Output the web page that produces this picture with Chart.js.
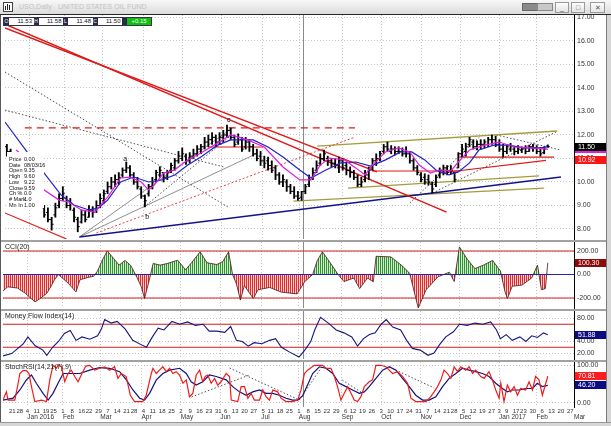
<!DOCTYPE html>
<html>
<head>
<meta charset="utf-8">
<script src="https://cdn.jsdelivr.net/npm/chart.js@4.4.1/dist/chart.umd.min.js"></script>
<style>
  html, body { margin:0; padding:0; width:611px; height:426px; overflow:hidden; background:#fff; font-family:"Liberation Sans", Arial, sans-serif; }
  .abs { position:absolute; }
  canvas { position:absolute; left:0; z-index:2; }
  #titlebar { left:0; top:0; width:611px; height:14px; background:linear-gradient(#f8f8f8,#dcdcdc); border-bottom:1px solid #262626; z-index:1; }
  .sep { left:0; width:606px; height:2px; background:#a2a2a2; z-index:3; }
  .btn { top:2px; height:9px; border:1px solid #9a9a9a; background:linear-gradient(#fdfdfd,#e4e4e4); font-size:7px; line-height:9px; text-align:center; color:#555; }
  #ohlc { left:3px; top:17px; width:147px; height:7px; border:1px solid #33334d; background:#fff; z-index:4; font-size:6px; line-height:7px; }
  #ohlc div { position:absolute; top:0; height:7px; }
  .lbl { background:#2a2a48; color:#fff; width:5px; text-align:center; font-size:5px; }
  .val { text-align:right; color:#111; }
  #dwin { left:7px; top:152px; width:37px; height:56px; background:#fff; z-index:4; font-size:5.5px; line-height:6.1px; color:#111; }
  #dwin div { position:absolute; left:2px; white-space:nowrap; }
</style>
</head>
<body>
<div id="titlebar" class="abs">
  <div class="abs" style="left:3px;top:2px;width:8px;height:8px;border:1px solid #444;background:#fff;">
    <div class="abs" style="left:1px;top:3px;width:1px;height:4px;background:#222"></div>
    <div class="abs" style="left:3px;top:1px;width:1px;height:6px;background:#222"></div>
    <div class="abs" style="left:5px;top:2px;width:1px;height:5px;background:#222"></div>
  </div>
  <div class="abs" style="left:19px;top:3px;font-size:7px;color:#c2c2c2;white-space:nowrap;">USO,Daily</div>
  <div class="abs" style="left:58px;top:3px;font-size:7px;color:#c2c2c2;white-space:nowrap;">UNITED STATES OIL FUND</div>
  <div class="abs" style="left:522px;top:3px;width:14px;height:6px;background:#8a8a8a;border:1px solid #666;"></div>
  <div class="abs" style="left:537px;top:3px;width:14px;height:6px;background:#c8c8c8;border:1px solid #888;"></div>
  <div class="abs btn" style="left:555px;width:12px;">_</div>
  <div class="abs btn" style="left:571px;width:12px;">□</div>
  <div class="abs btn" style="left:590px;width:13px;">✕</div>
</div>

<div id="ohlc" class="abs"></div>
<div id="dwin" class="abs"></div>

<canvas id="cMain"></canvas>
<canvas id="cCci"></canvas>
<canvas id="cMfi"></canvas>
<canvas id="cSto"></canvas>

<div class="abs sep" style="top:240px;"></div>
<div class="abs sep" style="top:309px;"></div>
<div class="abs sep" style="top:360px;"></div>
<div class="abs" style="left:0;top:15px;width:1px;height:407px;background:#5a5a5a;z-index:3;"></div>
<div class="abs" style="left:606px;top:15px;width:5px;height:411px;background:#d6d6d6;border-left:1px solid #7c7c7c;z-index:3;"></div>
<div class="abs" style="left:0;top:422px;width:611px;height:4px;background:#d6d6d6;border-top:1px solid #9a9a9a;z-index:3;"></div>

<script>
// ---------------- DATA ----------------
const calStart = '2015-12-14';
const holidays = ['2015-12-25','2016-01-01','2016-01-18','2016-02-15','2016-03-25','2016-05-30',
  '2016-07-04','2016-09-05','2016-11-24','2016-12-26','2017-01-02','2017-01-16'];
const monthNames = ['Jan','Feb','Mar','Apr','May','Jun','Jul','Aug','Sep','Oct','Nov','Dec'];

const headerFields = [['O','11.53'],['H','11.58'],['L','11.48'],['C','11.50']];
const headerChange = '+0.15';
const dataWindow = [['Price','0.00'],['Date','08/03/16'],['Open','9.35'],['High','9.60'],['Low','9.22'],
  ['Close','9.59'],['Ch %','0.0'],['# Mark','1.0'],['Mn In','1.00']];
const crossIdx = 160;

const priceTicks = [8,9,10,11,12,13,14,15,16,17];
const cciTicks = [-200,0,200];
const mfiTicks = [20,40,80];
const stoTicks = [0,100];

// OHLC bars: every second trading day starting at index 1
const barFirst = 1, barStep = 2;
const opens = [11.5,11.3,11.1,10.9,10.7,10.8,10.5,10.1,9.7,9.4,
  8.9,8.7,8.4,8.6,9.0,9.3,9.3,9.0,8.8,8.4,
  8.3,8.6,8.5,8.8,8.8,9.0,9.2,9.6,9.8,10.0,
  10.1,10.3,10.5,10.6,10.3,10.0,9.7,9.4,9.5,9.8,
  10.1,10.3,10.4,10.2,10.5,10.6,10.9,11.0,11.1,10.9,
  11.1,11.2,11.4,11.5,11.7,11.8,11.9,11.7,11.9,12.0,
  12.2,11.9,11.7,11.8,11.5,11.7,11.5,11.2,11.1,10.9,
  10.9,10.7,10.6,10.3,10.0,10.0,9.8,9.6,9.4,9.35,
  9.6,9.9,10.2,10.5,10.8,11.0,11.0,10.9,10.8,10.6,
  10.9,10.7,10.5,10.4,10.2,9.9,10.1,10.3,10.6,10.9,
  11.0,11.3,11.5,11.3,11.4,11.3,11.3,11.2,11.2,10.9,
  10.6,10.3,10.2,10.1,9.9,9.9,10.3,10.5,10.6,10.5,
  10.4,10.6,11.2,11.3,11.6,11.7,11.5,11.6,11.6,11.6,
  11.8,11.8,11.6,11.4,11.3,11.4,11.4,11.3,11.35,11.45,
  11.3,11.5,11.45,11.3,11.25,11.53];
const lows = [11.1,10.9,10.7,10.5,10.6,10.4,10.0,9.6,9.3,9.0,
  8.5,8.3,7.95,8.5,8.9,9.2,8.9,8.8,8.3,7.88,
  8.25,8.3,8.5,8.5,8.7,8.9,9.1,9.5,9.7,9.8,
  9.9,10.2,10.4,10.2,9.9,9.7,9.3,8.94,9.4,9.7,
  10.0,10.2,10.0,10.1,10.4,10.5,10.8,10.9,10.75,10.8,
  11.0,11.1,11.2,11.4,11.5,11.6,11.5,11.6,11.7,11.9,
  11.8,11.5,11.6,11.3,11.4,11.3,11.1,10.9,10.7,10.6,
  10.5,10.4,10.1,9.9,9.8,9.6,9.5,9.3,9.22,9.22,
  9.5,9.8,10.1,10.4,10.7,10.9,10.7,10.64,10.6,10.4,
  10.5,10.3,10.2,10.1,9.8,9.8,10.0,10.1,10.5,10.7,
  10.9,11.2,11.3,11.2,11.15,11.2,11.1,11.06,10.8,10.5,
  10.3,10.0,9.9,9.87,9.53,9.8,10.17,10.3,10.3,10.35,
  10.0,10.6,11.06,11.1,11.5,11.4,11.36,11.4,11.45,11.5,
  11.6,11.5,11.3,11.06,11.2,11.3,11.15,11.2,11.25,11.2,
  11.3,11.3,11.2,11.1,11.2,11.48];
const highs = [11.6,11.4,11.2,11.0,11.0,10.9,10.6,10.2,9.8,9.5,
  9.0,8.9,8.5,9.1,9.5,9.8,9.4,9.3,8.9,8.5,
  8.8,8.75,9.0,8.95,9.2,9.5,9.66,10.0,10.2,10.3,
  10.4,10.6,10.85,10.7,10.4,10.2,9.8,9.45,9.9,10.2,
  10.5,10.65,10.4,10.5,10.8,11.0,11.3,11.45,11.2,11.25,
  11.4,11.55,11.6,11.9,12.0,12.1,12.0,12.1,12.2,12.42,
  12.3,12.0,12.05,11.9,11.9,11.8,11.6,11.4,11.3,11.1,
  11.06,10.9,10.7,10.4,10.3,10.1,9.9,9.8,9.6,9.6,
  9.9,10.3,10.6,10.9,11.2,11.36,11.1,11.0,11.0,11.06,
  11.0,10.8,10.64,10.5,10.3,10.2,10.5,10.64,11.0,11.2,
  11.3,11.6,11.7,11.55,11.5,11.5,11.45,11.5,11.3,11.0,
  10.7,10.4,10.35,10.3,10.0,10.3,10.6,10.72,10.7,10.7,
  10.4,11.25,11.6,11.65,11.9,11.8,11.75,11.8,11.8,11.9,
  12.0,11.95,11.8,11.6,11.6,11.65,11.5,11.55,11.5,11.55,
  11.57,11.6,11.55,11.45,11.5,11.58];
const closes = [11.3,11.0,10.8,10.7,10.8,10.5,10.1,9.7,9.4,9.1,
  8.6,8.4,8.2,8.9,9.3,9.5,9.0,9.1,8.5,8.1,
  8.6,8.4,8.8,8.7,9.0,9.3,9.5,9.8,10.0,10.1,
  10.2,10.5,10.6,10.3,10.0,9.8,9.4,9.2,9.8,10.0,
  10.4,10.5,10.2,10.4,10.7,10.9,11.1,11.2,10.9,11.1,
  11.2,11.4,11.5,11.7,11.8,11.9,11.7,11.9,12.0,12.2,
  11.9,11.6,11.9,11.4,11.7,11.5,11.2,11.0,10.9,10.8,
  10.7,10.5,10.3,10.0,10.1,9.8,9.6,9.4,9.3,9.59,
  9.8,10.1,10.4,10.7,11.0,11.2,10.9,10.8,10.7,10.9,
  10.6,10.5,10.4,10.2,9.9,10.0,10.3,10.5,10.9,11.0,
  11.2,11.5,11.4,11.4,11.3,11.3,11.2,11.2,10.9,10.6,
  10.4,10.1,10.0,10.0,9.7,10.2,10.5,10.6,10.4,10.5,
  10.1,11.2,11.4,11.5,11.8,11.5,11.6,11.6,11.7,11.8,
  11.8,11.6,11.4,11.3,11.5,11.5,11.3,11.4,11.4,11.3,
  11.5,11.45,11.3,11.2,11.4,11.50];

const maBlue = [[0,12.55],[13,11.15],[21,10.38],[30,9.45],[37,9.02],[45,8.81],[50,8.89],[55,9.23],[62,10.0],
  [69,10.21],[77,10.0],[84,10.09],[91,10.3],[98,10.72],[105,11.06],[114,11.57],[121,11.79],[133,11.79],
  [141,11.49],[149,11.06],[158,10.51],[164,10.17],[172,10.51],[180,10.81],[188,10.85],[196,10.68],
  [204,10.94],[212,11.28],[218,11.28],[225,10.94],[231,10.51],[238,10.3],[243,10.43],[249,10.81],
  [254,11.36],[262,11.57],[270,11.57],[278,11.45],[286,11.45],[291,11.49]];
const maMagenta = [[6,11.36],[11,11.02],[21,9.66],[29,9.23],[34,9.15],[41,8.81],[48,8.72],[55,9.36],[62,10.17],
  [67,10.21],[73,10.0],[77,9.66],[80,9.87],[85,10.38],[91,10.51],[98,10.94],[105,11.23],[114,11.66],
  [121,12.0],[130,11.79],[139,11.49],[149,10.64],[158,10.09],[164,10.09],[169,10.72],[174,11.02],
  [182,10.94],[188,10.6],[193,10.3],[197,10.72],[204,11.28],[211,11.45],[217,11.28],[222,10.72],
  [228,10.38],[233,10.51],[239,10.47],[243,10.85],[249,11.36],[257,11.57],[265,11.7],[273,11.49],
  [281,11.45],[291,11.4]];

const lastMagenta = 11.40, lastClose = 11.50, lastRedLine = 10.92;

// trendlines [[index, price], [index, price]]
const redThick = [[[0,16.72],[236.7,8.72]], [[0,16.55],[199.4,10.43]]];
const redThin = [[[196.7,10.47],[243.6,10.47]], [[233,10.38],[290,10.92]], [[243.6,11.06],[294.3,11.06]],
  [[108.7,11.49],[138.6,11.49]], [[0,8.68],[33,7.57]]];
const redDashed = [[10.6,12.30],[187.6,12.30]];
const redDotted = [[49,7.83],[187.6,11.91]];
const navyTrend = [[39.9,7.66],[298,10.21]];
const oliveTrends = [[[167.4,11.53],[296,12.17]], [[183.9,9.74],[286.3,10.26]], [[154.6,9.19],[289,9.74]]];
const blackDotted = [[[0,14.68],[119.4,8.94]], [[0,13.06],[117.2,10.64]], [[74.6,8.94],[122,12.04]],
  [[217,9.11],[254.3,11.91]], [[229.2,9.53],[295.4,12.13]], [[263.4,12.0],[298,11.36]]];
const blackThin = [[[39.9,7.66],[122.6,12.34]], [[39.9,7.66],[135.4,11.23]]];
const waveLabels = [['a',64.4,10.98],['b',76.2,8.51],['c',119.9,12.64]];

// CCI(20)
const cci = [[0,-140],[2.5,-105],[7.7,-115],[11.9,-160],[17.1,-233],[20.2,-200],[23.4,-160],[25.5,-105],
  [27.5,-45],[29.6,0],[31.7,-30],[34.9,-75],[39,-148],[41.1,-45],[45.3,-25],[48.4,-15],[50.5,30],[53,120],
  [55.7,201],[58.9,140],[62,80],[65.2,120],[68.3,75],[71.4,-20],[73.9,-105],[75.6,-204],[78.1,-48],
  [80.2,94],[83.9,80],[88.1,95],[93.3,122],[97.5,40],[100.7,100],[105.3,193],[109,100],[114.2,85],
  [117.4,110],[120.5,193],[122.6,0],[124.7,-80],[126.8,-218],[128.9,-95],[133.7,-204],[136.2,-130],
  [142.4,-110],[148.7,-150],[157.1,-165],[161.2,-60],[165.4,0],[167.9,120],[170.6,193],[174.8,100],
  [179,0],[182.1,-60],[187.4,-30],[190.5,-120],[194.7,-30],[197.8,-62],[199.3,155],[207.2,150],
  [213.5,70],[217.2,10],[219.7,-150],[221.8,-285],[226,-130],[232.3,-20],[238.5,20],[241,-60],
  [243.8,235],[248,130],[252.1,50],[257.3,85],[261.5,120],[265.7,30],[268.2,-150],[269.4,-204],
  [272,-100],[277.2,-90],[282.4,-30],[285.5,80],[287.6,-130],[289.7,-120],[291,100.3]];
const cciLevels = [200, -200];
const lastCci = 100.30;

// Money Flow Index(14)
const mfi = [[0,15],[4.6,19],[10.8,36],[13.3,48],[17.1,33],[21.3,25],[23.4,16],[26.5,30],[29.6,40],
  [32.8,54],[35.9,59],[39,42],[42.2,48],[46.4,44],[50.5,50],[52.6,62],[54.3,78],[57.8,72],[61,75],
  [65.2,62],[69.3,42],[73.5,35],[76.6,30],[79.8,48],[82.9,63],[86,60],[90.2,75],[94.4,70],[98.6,74],
  [102.8,68],[106.9,70],[110.1,58],[114.2,58],[118.4,56],[121.6,66],[124.7,42],[127.8,40],[131,32],
  [134.1,38],[138.3,36],[142.4,42],[145.6,45],[148.7,30],[152.9,22],[158.1,13],[161.2,25],[164.4,40],
  [166.5,60],[169.6,82],[173.8,72],[178,60],[182.1,55],[186.3,48],[189.4,32],[192.6,45],[195.7,52],
  [198.8,55],[202,70],[204.7,78],[208.2,65],[212.4,60],[215.6,42],[218.7,28],[222.9,25],[227,16],
  [230.2,20],[233.3,35],[236.5,48],[240.6,57],[243.8,70],[248,68],[252.1,72],[256.3,70],[260.5,74],
  [263.6,60],[265.7,45],[268.8,52],[272,42],[276.1,48],[279.3,40],[282.4,50],[285.5,47],[288.7,55],
  [291,51.88]];
const mfiLevels = [70, 30];
const lastMfi = 51.88;

// StochRSI(14,21(7),9)
const stochK = [[0,7],[1.8,29],[2.7,7],[6.3,7],[8.1,52],[9,78],[10.7,86],[12.5,86],[13.9,78],[15.2,43],
  [17,3],[20.5,7],[23.2,3],[25,61],[26.7,100],[28.5,92],[29.4,100],[31.2,96],[33,56],[34.7,78],[36.5,87],
  [38.3,70],[40.1,56],[41.8,74],[44.2,98],[46.3,100],[49,87],[51.6,92],[54.3,96],[57,87],[59.6,96],
  [61.4,65],[63.2,78],[65.8,70],[68,20],[70.3,3],[74.7,3],[76.5,20],[79.2,78],[80.1,92],[81.9,78],
  [83.6,87],[85.4,96],[87.2,83],[89,92],[90.7,78],[92.5,83],[94.3,74],[96.1,52],[97.9,61],[99.6,16],
  [101.4,25],[103.2,74],[105,87],[106.7,56],[108,70],[109.4,74],[111.2,52],[113,65],[114.7,47],
  [116.5,56],[119.2,78],[121,70],[121.9,7],[125.4,3],[127.2,43],[129,43],[130.8,12],[132.5,25],
  [134.3,7],[137,7],[138.8,34],[140.5,16],[142.3,7],[144.1,34],[146.7,29],[148.5,12],[151.2,3],
  [154.7,3],[157.4,7],[159.2,34],[161,78],[162.7,87],[166.3,100],[170.7,100],[172.5,92],[175.2,92],
  [177,70],[178.7,43],[180.5,7],[182.3,25],[184.1,43],[185.9,25],[187.6,7],[189.4,3],[191.2,16],
  [193,43],[195.6,56],[197.4,61],[199.2,100],[201.9,100],[204.5,96],[206.3,87],[208.1,78],[210.7,83],
  [213.4,70],[216.1,52],[217.9,12],[220.5,3],[225.9,3],[228.5,16],[230.3,29],[232.1,43],[233.9,61],
  [235.6,87],[237.4,78],[239.2,65],[241,96],[242.8,83],[244.5,96],[247.2,87],[249,96],[250.8,78],
  [252.5,87],[255.2,70],[257,65],[259.6,83],[261.4,61],[263.2,34],[265,12],[265.9,52],[267.6,3],
  [269.4,47],[271.2,29],[273,43],[274.8,20],[276.5,38],[279.2,34],[281,56],[282.8,34],[284.5,70],
  [286.3,61],[288.1,20],[291,70.81]];
const stochD = [[0,7],[5.4,12],[9,34],[12.5,61],[15.2,74],[17.8,52],[21.4,25],[24.1,7],[26.7,25],
  [29.4,52],[32.1,78],[35.6,78],[41,78],[46.3,87],[51.6,94],[57,92],[62.3,83],[65.9,61],[69.4,34],
  [73,12],[75.6,7],[78.3,25],[81.9,61],[85.4,78],[89,87],[94.3,92],[97.9,78],[100.5,56],[103.2,47],
  [106.7,56],[110.3,74],[113.9,70],[119.2,61],[122.7,43],[126.3,29],[129.9,20],[133.4,29],[137,34],
  [140.5,25],[144.1,25],[147.6,20],[151.2,12],[154.7,7],[157.4,7],[160,18],[162,40],[165.4,78],
  [169,96],[172.5,92],[176.1,78],[179.6,52],[183.2,43],[186.7,34],[190.3,25],[193,29],[195.6,43],
  [199.2,65],[202.8,87],[206.3,96],[209.9,87],[213.4,65],[217,43],[220.5,20],[224.1,7],[227.6,7],
  [231.2,16],[234.8,43],[238.3,65],[241.9,78],[245.4,92],[249,87],[252.5,83],[256.1,78],[259.6,70],
  [263.2,52],[266.8,38],[269.4,29],[272.1,34],[275.6,34],[279.2,38],[282.8,38],[285.4,52],[288.1,43],
  [291,46.2]];
const stochLines = [[[100.7,15.2],[131.6,74]], [[121,92.8],[158.3,7.2]], [[158.3,7.2],[170.6,98]],
  [[181.2,60.7],[191.9,26]], [[206.3,95.5],[230.3,39.3]]];
const lastK = 70.81, lastD = 46.20;

// ---------------- LAYOUT / HELPERS ----------------
const FONT = '"Liberation Sans", Arial, sans-serif';
Chart.defaults.font.family = FONT;
const PAD = 6;
const X_MAX = 305;

// trading calendar for the time axis
const tradingDays = [];
(function(){
  const d = new Date(calStart + 'T00:00:00Z');
  while (tradingDays.length <= X_MAX + 1) {
    const dow = d.getUTCDay(), iso = d.toISOString().slice(0,10);
    if (dow !== 0 && dow !== 6 && !holidays.includes(iso)) tradingDays.push(new Date(d));
    d.setUTCDate(d.getUTCDate() + 1);
  }
})();
const weekTicks = [], monthTicks = [];
tradingDays.forEach((d, i) => {
  if (i > X_MAX) return;
  const p = tradingDays[i-1];
  const newWeek = !p || d.getUTCDay() <= p.getUTCDay() || (d - p) > 4*864e5;
  if (newWeek && i >= 2) weekTicks.push({idx:i, label:String(d.getUTCDate())});
  const newMonth = !p || d.getUTCMonth() !== p.getUTCMonth();
  if (newMonth && i >= 2) {
    const m = d.getUTCMonth();
    monthTicks.push({idx:i, label: m === 0 ? monthNames[m] + ' ' + d.getUTCFullYear() : monthNames[m]});
  }
});
const weekLabel = new Map(weekTicks.map(t => [t.idx, t.label]));
const monthLabel = new Map(monthTicks.map(t => [t.idx, t.label]));

// header row + data window
(function(){
  const box = document.getElementById('ohlc');
  let html = '';
  headerFields.forEach((f, k) => {
    const x0 = k * 29.5;
    html += `<div class="lbl" style="left:${x0}px">${f[0]}</div>`;
    html += `<div class="val" style="left:${x0+6}px;width:${22}px">${f[1]}</div>`;
  });
  html += `<div class="lbl" style="left:118px"></div>`;
  html += `<div style="left:123px;width:24px;background:#10c010;color:#fff;text-align:center">${headerChange}</div>`;
  box.innerHTML = html;
  const dw = document.getElementById('dwin');
  dw.innerHTML = dataWindow.map((r, k) =>
    `<div style="top:${4 + k*5.7}px">${r[0]}</div><div style="top:${4 + k*5.7}px;left:17px">${r[1]}</div>`).join('');
})();

function gridX() {
  return { type:'linear', min:0, max:X_MAX, position:'bottom', offset:false,
    afterBuildTicks: s => { s.ticks = monthTicks.map(t => ({value:t.idx})); },
    ticks:{display:false}, grid:{color:'#c4c4c4', lineWidth:1, drawTicks:false, offset:false},
    border:{display:false, dash:[1,2]},
    afterFit: s => { s.height = 0; s.paddingLeft = 0; s.paddingRight = 0; } };
}
function rightY(min, max, ticks) {
  return { type:'linear', position:'right', min, max, beginAtZero:false,
    afterBuildTicks: s => { s.ticks = ticks.map(v => ({value:v})); },
    ticks:{ callback: v => Number(v).toFixed(2), font:{size:7}, color:'#333', padding:3 },
    grid:{color:'#c4c4c4', lineWidth:1, drawTicks:false},
    border:{display:true, color:'#000', width:1, dash:[1,2]},
    afterFit: s => { s.width = 37; s.paddingTop = 0; s.paddingBottom = 0; } };
}
function seg(pts, color, w, dash) {
  return { type:'line', data:pts, borderColor:color, borderWidth:w, borderDash:dash || [],
    pointRadius:0, fill:false, tension:0 };
}
function levelLine(v, color) {
  return seg([[0, v], [X_MAX, v]], color, 1);
}
function deco(cfg) {
  return {
    id: 'deco',
    beforeDatasetsDraw(chart) {
      const {ctx, chartArea:a, scales} = chart;
      const x = Math.round(scales.x.getPixelForValue(crossIdx)) + 0.5;
      ctx.save(); ctx.strokeStyle = '#8a8a8a'; ctx.lineWidth = 1;
      ctx.beginPath(); ctx.moveTo(x, a.top); ctx.lineTo(x, a.bottom); ctx.stroke(); ctx.restore();
    },
    afterDraw(chart) {
      const {ctx, chartArea:a, scales} = chart;
      ctx.save();
      if (cfg.title) {
        ctx.font = '7px ' + FONT; ctx.fillStyle = '#222'; ctx.textBaseline = 'top'; ctx.textAlign = 'left';
        ctx.fillText(cfg.title, a.left + 2, a.top + 2);
      }
      (cfg.texts || []).forEach(t => {
        ctx.font = '7px ' + FONT; ctx.fillStyle = '#111'; ctx.textAlign = 'center'; ctx.textBaseline = 'middle';
        ctx.fillText(t[0], scales.x.getPixelForValue(t[1]), scales.y.getPixelForValue(t[2]));
      });
      (cfg.boxes || []).forEach(b => {
        const y = Math.round(scales.y.getPixelForValue(b[0]));
        ctx.fillStyle = b[1]; ctx.fillRect(a.right + 1, y - 4, 31, 8);
        if (b[2]) {
          ctx.fillStyle = '#fff'; ctx.font = '7px ' + FONT; ctx.textAlign = 'left'; ctx.textBaseline = 'middle';
          ctx.fillText(b[2], a.right + 4, y + 0.5);
        }
      });
      ctx.restore();
    }
  };
}
function makeChart(id, top, areaH, axesH, padBottom, datasets, scales, plugin) {
  const c = document.getElementById(id);
  const h = PAD + areaH + axesH + padBottom;
  c.width = 611; c.height = h;
  c.style.top = (top - PAD) + 'px'; c.style.width = '611px'; c.style.height = h + 'px';
  return new Chart(c, {
    type:'line',
    data:{datasets},
    options:{ responsive:false, animation:false, events:[],
      layout:{padding:{left:3, right:0, top:PAD, bottom:padBottom}},
      plugins:{legend:{display:false}, tooltip:{enabled:false}},
      scales },
    plugins:[plugin]
  });
}

// ---------------- MAIN PRICE PANEL ----------------
const barX = lows.map((_, k) => barFirst + k * barStep);
const mainSets = [
  seg(maMagenta, '#e01ee0', 1.2),
  seg(maBlue, '#2222c8', 1.2),
  { type:'bar', data: barX.map((x, k) => ({x, y:[lows[k], highs[k]]})), backgroundColor:'#000',
    barThickness:1.2, grouped:false },
  { type:'line', data: barX.map((x, k) => ({x, y:closes[k]})), showLine:false, pointStyle:'dash',
    pointRadius:2, pointBorderColor:'#000', pointBorderWidth:1, pointBackgroundColor:'#000' },
  { type:'line', data: barX.map((x, k) => ({x, y:opens[k]})), showLine:false, pointStyle:'dash',
    pointRotation:180, pointRadius:2, pointBorderColor:'#000', pointBorderWidth:1, pointBackgroundColor:'#000' },
  ...redThick.map(p => seg(p, '#e01818', 1.5)),
  ...redThin.map(p => seg(p, '#e01818', 1.1)),
  seg(redDashed, '#e01818', 1.3, [7,5]),
  seg(redDotted, '#e03030', 0.9, [2,2]),
  seg(navyTrend, '#14148a', 1.5),
  ...oliveTrends.map(p => seg(p, '#a49c3c', 1.3)),
  ...blackDotted.map(p => seg(p, '#222', 0.8, [1.5,2])),
  ...blackThin.map(p => seg(p, '#444', 0.6))
];
makeChart('cMain', 15, 224, 0, PAD, mainSets,
  { x: gridX(), y: rightY(7.574, 17.106, priceTicks) },
  deco({ texts: waveLabels,
         boxes: [[lastMagenta, '#e01ee0', ''], [lastClose, '#000', lastClose.toFixed(2)],
                 [lastRedLine, '#ff1414', lastRedLine.toFixed(2)]] }));

// ---------------- CCI PANEL ----------------
function stripes(c1, c2, ctx) {
  const p = document.createElement('canvas'); p.width = 2; p.height = 2;
  const g = p.getContext('2d'); g.fillStyle = c2; g.fillRect(0, 0, 2, 2); g.fillStyle = c1; g.fillRect(0, 0, 1, 2);
  return ctx.createPattern(p, 'repeat');
}
const cciCtx = document.getElementById('cCci').getContext('2d');
const greenPat = stripes('#2f932f', '#cfeacf', cciCtx);
const redPat = stripes('#e42a2a', '#fbd2d2', cciCtx);
makeChart('cCci', 242, 66, 0, PAD, [
  levelLine(0, '#2424a8'),
  { type:'line', data:cci, borderColor:'#4a1616', borderWidth:0.8, pointRadius:0, tension:0,
    fill:{target:{value:0}, above:greenPat, below:redPat} },
  ...cciLevels.map(v => levelLine(v, '#d41c1c'))
], { x: gridX(), y: rightY(-285, 276.6, cciTicks) },
  deco({ title:'CCI(20)', boxes:[[lastCci, '#8b0a0a', lastCci.toFixed(2)]] }));

// ---------------- MFI PANEL ----------------
makeChart('cMfi', 311, 48, 0, PAD, [
  seg(mfi, '#161680', 1.1),
  ...mfiLevels.map(v => levelLine(v, '#d41c1c'))
], { x: gridX(), y: rightY(9.6, 93.0, mfiTicks) },
  deco({ title:'Money Flow Index(14)', boxes:[[lastMfi, '#0c0c80', lastMfi.toFixed(2)]] }));

// ---------------- STOCH RSI PANEL ----------------
const stoScales = {
  x: { type:'linear', min:0, max:X_MAX, position:'bottom', weight:0, offset:false,
    afterBuildTicks: s => { s.ticks = weekTicks.map(t => ({value:t.idx})); },
    ticks:{ callback: v => weekLabel.get(v) ?? '', font:{size:6}, color:'#333', padding:1,
      maxRotation:0, minRotation:0, autoSkip:false },
    grid:{display:false, drawTicks:false}, border:{display:false},
    afterFit: s => { s.height = 6; s.paddingLeft = 0; s.paddingRight = 0; } },
  x2: { type:'linear', min:0, max:X_MAX, position:'bottom', weight:1, offset:false,
    afterBuildTicks: s => { s.ticks = monthTicks.map(t => ({value:t.idx})); },
    ticks:{ callback: v => monthLabel.get(v) ?? '', font:{size:6.5}, color:'#333', padding:0, align:'start',
      maxRotation:0, minRotation:0, autoSkip:false },
    grid:{color:'#c4c4c4', lineWidth:1, drawTicks:false, drawOnChartArea:true}, border:{display:false, dash:[1,2]},
    afterFit: s => { s.height = 8; s.paddingLeft = 0; s.paddingRight = 0; } },
  y: rightY(-11.5, 108.8, stoTicks)
};
makeChart('cSto', 362, 45, 14, 4, [
  seg(stochK, '#ee1c1c', 1.2),
  seg(stochD, '#12127c', 1.2),
  ...stochLines.map(p => seg(p, '#222', 0.8, [1.5,2]))
], stoScales,
  deco({ title:'StochRSI(14,21(7),9)', boxes:[[lastK, '#ff1c1c', lastK.toFixed(2)], [lastD, '#0c0c80', lastD.toFixed(2)]] }));
</script>
</body>
</html>
